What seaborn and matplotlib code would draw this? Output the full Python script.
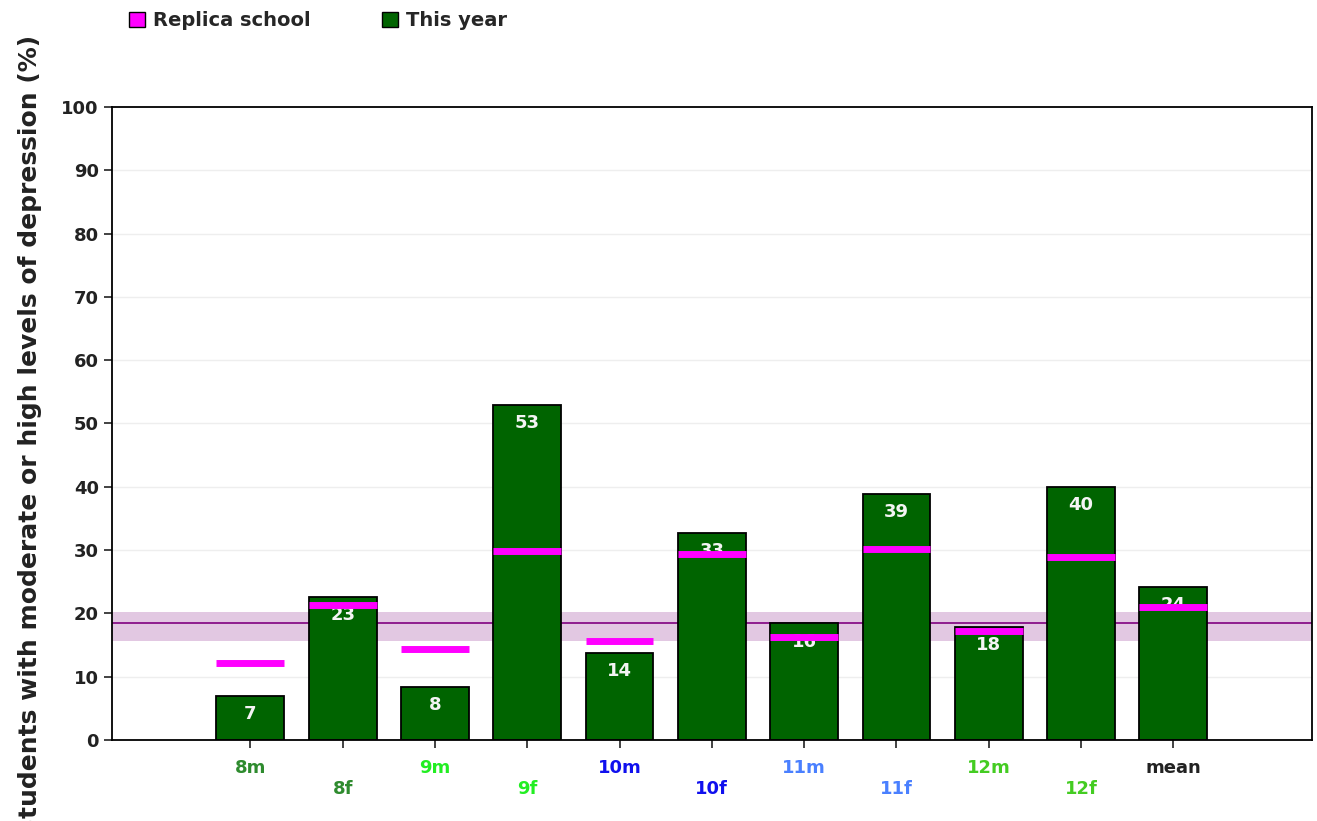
import numpy as np
import pandas as pd
import matplotlib
matplotlib.use("Agg")
import matplotlib.pyplot as plt
from matplotlib.patches import Patch
import seaborn as sns

groups = ["8m", "8f", "9m", "9f", "10m", "10f", "11m", "11f", "12m", "12f", "mean"]
this_year = [7.0, 22.6, 8.3, 52.9, 13.7, 32.7, 18.4, 38.8, 17.8, 40.0, 24.1]
bar_labels = ["7", "23", "8", "53", "14", "33", "16", "39", "18", "40", "24"]
replica = [12.2, 21.3, 14.3, 29.8, 15.6, 29.4, 16.2, 30.1, 17.2, 28.9, 21.0]
label_colors = ["#2e8b2e", "#2e8b2e", "#22ee22", "#22ee22", "#1010ee", "#1010ee",
                "#4a80ff", "#4a80ff", "#44cc22", "#44cc22", "#222222"]
band_low, band_mid, band_high = 15.6, 18.5, 20.2

sns.set_style("ticks")
plt.rcParams["font.family"] = ["DejaVu Sans"]
plt.rcParams["font.weight"] = "bold"

df = pd.DataFrame({"group": groups, "value": this_year})

fig = plt.figure(figsize=(13.17, 8.21), dpi=100)
ax = fig.add_axes([0.085, 0.0987, 0.911, 0.771])

# reference band behind everything
ax.axhspan(band_low, band_high, color="#e2c8e2", zorder=1, lw=0)
ax.axhline(band_mid, color="#800080", lw=1.2, zorder=1.5)
for yv in range(10, 100, 10):
    ax.axhline(yv, color="#eeeeee", lw=1, zorder=0.5)

width = 0.735
sns.barplot(data=df, x="group", y="value", order=groups, color="#006400",
            saturation=1, width=width, edgecolor="black", linewidth=1.3,
            ax=ax, zorder=2)

pos = np.arange(len(groups))
for x, v, t in zip(pos, this_year, bar_labels):
    ax.annotate(t, (x, v), xytext=(0, -13), textcoords="offset points",
                ha="center", va="center", color="#f4f4f4",
                fontsize=13, fontweight="bold", zorder=3)

ax.hlines(replica, pos - width / 2, pos + width / 2, color="#ff00ff",
          lw=5, zorder=4)

ax.set_xlim(-1.5, len(groups) + 0.5)
ax.set_ylim(0, 100)
ax.set_yticks(range(0, 101, 10))
ax.set_xticks(pos)
ax.set_xticklabels([g if i % 2 == 0 else "\n" + g for i, g in enumerate(groups)])
ax.tick_params(axis="both", direction="out", length=6, width=1.2,
               labelsize=13, colors="#222222")
for lbl, c in zip(ax.get_xticklabels(), label_colors):
    lbl.set_color(c)
    lbl.set_fontweight("bold")
for lbl in ax.get_yticklabels():
    lbl.set_fontweight("bold")
ax.tick_params(axis="x", pad=8)
ax.set_xlabel("")
ax.set_ylabel("")
for s in ax.spines.values():
    s.set_visible(True)
    s.set_linewidth(1.3)
    s.set_color("black")

fig.text(30 / 1317, 1 - 35 / 821,
         "Students with moderate or high levels of depression (%)",
         rotation=90, ha="center", va="top", fontsize=18, fontweight="bold",
         color="#222222")

handles = [Patch(facecolor="#ff00ff", edgecolor="black", label="Replica school"),
           Patch(facecolor="#006400", edgecolor="black", label="This year")]
fig.legend(handles=handles, loc="upper left", bbox_to_anchor=(0.085, 1.008),
           ncol=2, frameon=False, handlelength=0.8,
           handleheight=0.8, handletextpad=0.4, columnspacing=3.7,
           prop={"weight": "bold", "size": 14})

fig.savefig("out.png", dpi=100)
